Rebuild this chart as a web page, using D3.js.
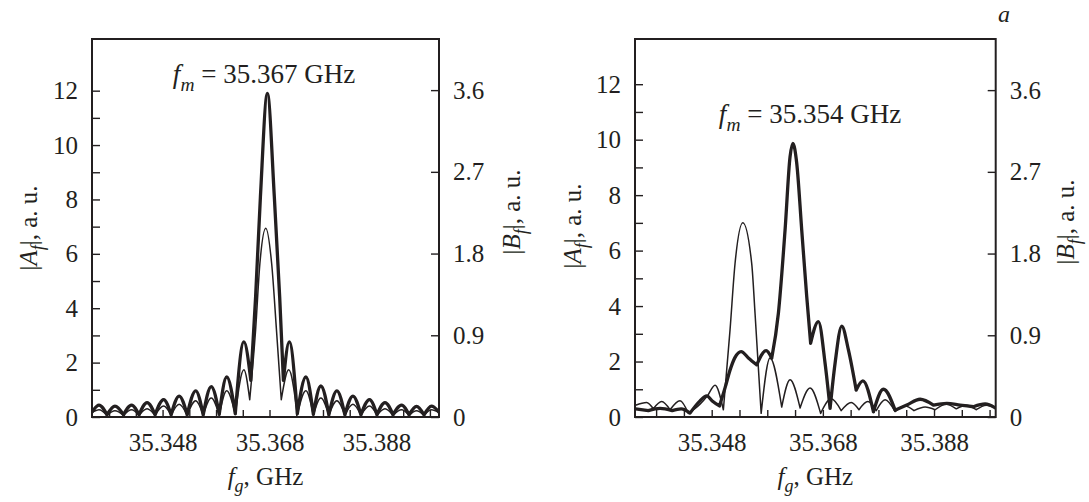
<!DOCTYPE html>
<html>
<head>
<meta charset="utf-8">
<script src="https://cdn.jsdelivr.net/npm/d3@7"></script>
<style>
  html, body { margin: 0; padding: 0; background: #fff; }
  svg { display: block; }
  text { font-family: "Liberation Serif", "Times New Roman", serif; fill: #231f20; }
</style>
</head>
<body>
<svg id="chart" width="1089" height="502"></svg>
<script>
// ---- Data: spectra |A_f| (thick, left axis) and |B_f| (thin, right axis) vs f_g, GHz ----

// Panel 1, f_m = 35.367 GHz
const leftAFreq = [35.3348, 35.3361, 35.3376, 35.3391, 35.3407, 35.3422, 35.3436, 35.3451, 35.3466, 35.3482,
  35.3496, 35.3511, 35.3526, 35.3542, 35.3556, 35.3571, 35.3586, 35.3600, 35.3616, 35.3632,
  35.3645, 35.3654, 35.3663, 35.3676, 35.3689, 35.3699, 35.3706, 35.3717, 35.3732, 35.3748,
  35.3762, 35.3776, 35.3791, 35.3806, 35.3821, 35.3836, 35.3851, 35.3867, 35.3881, 35.3896,
  35.3911, 35.3927, 35.3941, 35.3955, 35.3969, 35.3983, 35.3997];
const leftA = [0.18, 0.44, 0.08, 0.40, 0.08, 0.44, 0.08, 0.53, 0.08, 0.64,
  0.08, 0.77, 0.08, 0.96, 0.08, 1.12, 0.10, 1.47, 0.12, 2.76,
  1.35, 4.42, 8.10, 11.9, 8.10, 4.42, 1.35, 2.76, 0.12, 1.47,
  0.10, 1.14, 0.08, 0.96, 0.08, 0.77, 0.08, 0.64, 0.08, 0.53,
  0.08, 0.44, 0.08, 0.39, 0.08, 0.40, 0.18];

const leftBFreq = [35.3348, 35.3361, 35.3376, 35.3391, 35.3407, 35.3422, 35.3436, 35.3451, 35.3466, 35.3482,
  35.3496, 35.3511, 35.3526, 35.3542, 35.3556, 35.3571, 35.3586, 35.3600, 35.3616, 35.3632,
  35.3643, 35.3654, 35.3662, 35.3673, 35.3684, 35.3693, 35.3702, 35.3716, 35.3732, 35.3748,
  35.3762, 35.3776, 35.3791, 35.3806, 35.3821, 35.3836, 35.3851, 35.3867, 35.3881, 35.3896,
  35.3911, 35.3927, 35.3941, 35.3955, 35.3969, 35.3983, 35.3997];
const leftB = [0.05, 0.08, 0.02, 0.07, 0.02, 0.08, 0.02, 0.09, 0.02, 0.12,
  0.02, 0.14, 0.02, 0.18, 0.02, 0.21, 0.02, 0.29, 0.03, 0.52,
  0.19, 0.96, 1.69, 2.08, 1.69, 0.96, 0.19, 0.52, 0.03, 0.29,
  0.02, 0.21, 0.02, 0.18, 0.02, 0.14, 0.02, 0.12, 0.02, 0.09,
  0.02, 0.08, 0.02, 0.07, 0.02, 0.08, 0.05];

// Panel 2, f_m = 35.354 GHz
const rightAFreq = [35.3343, 35.3366, 35.3387, 35.3409, 35.3425, 35.3441, 35.3459, 35.3471, 35.3481, 35.3494,
  35.3504, 35.3513, 35.3522, 35.3533, 35.3546, 35.3561, 35.3578, 35.3588, 35.3600, 35.3612,
  35.3621, 35.3626, 35.3633, 35.3642, 35.3651, 35.3658, 35.3672, 35.3684, 35.3693, 35.3702,
  35.3714, 35.3726, 35.3740, 35.3752, 35.3771, 35.3789, 35.3810, 35.3831, 35.3855, 35.3879,
  35.3903, 35.3927, 35.3951, 35.3972, 35.3991];
const rightA = [0.29, 0.23, 0.31, 0.23, 0.29, 0.14, 0.58, 0.76, 0.58, 0.40,
  1.05, 1.69, 2.15, 2.36, 2.13, 1.88, 2.39, 2.12, 3.74, 6.74,
  9.39, 9.87, 9.15, 6.74, 4.34, 2.66, 3.44, 1.94, 0.31, 1.94,
  3.28, 2.42, 0.97, 1.30, 0.19, 1.00, 0.25, 0.43, 0.64, 0.43,
  0.49, 0.43, 0.37, 0.47, 0.32];

const rightBFreq = [35.3343, 35.3363, 35.3375, 35.3390, 35.3405, 35.3423, 35.3438, 35.3459, 35.3472, 35.3486,
  35.3501, 35.3513, 35.3522, 35.3536, 35.3552, 35.3558, 35.3569, 35.3585, 35.3606, 35.3621,
  35.3639, 35.3657, 35.3676, 35.3695, 35.3713, 35.3731, 35.3745, 35.3761, 35.3776, 35.3792,
  35.3810, 35.3828, 35.3844, 35.3864, 35.3882, 35.3902, 35.3920, 35.3938, 35.3956, 35.3974,
  35.3991];
const rightB = [0.13, 0.16, 0.09, 0.17, 0.08, 0.18, 0.04, 0.14, 0.23, 0.35,
  0.08, 0.96, 1.69, 2.14, 1.69, 1.14, 0.04, 0.65, 0.11, 0.41,
  0.10, 0.32, 0.04, 0.20, 0.07, 0.16, 0.08, 0.17, 0.07, 0.19,
  0.06, 0.12, 0.07, 0.11, 0.08, 0.14, 0.09, 0.13, 0.08, 0.13,
  0.10];

// Axis ticks and labels
const xTicks = [35.338, 35.343, 35.348, 35.353, 35.358, 35.363, 35.368, 35.373, 35.378, 35.383, 35.388, 35.393, 35.398];
const xLabels = [35.348, 35.368, 35.388];
const aTicks = [0, 1, 2, 3, 4, 5, 6, 7, 8, 9, 10, 11, 12];
const aLabels = [0, 2, 4, 6, 8, 10, 12];
const bTicks = [0, 0.9, 1.8, 2.7, 3.6];
const modFreqs = ["35.367", "35.354"];

// ---- Drawing ----
const ink = "#231f20";
const svg = d3.select("#chart");
const zip = (xs, ys) => xs.map((x, i) => [x, ys[i]]);

const panels = [
  { x0: 92, x1: 439, xDom: [35.3348, 35.3997], aMax: 13.9, bMax: 4.163,
    thick: zip(leftAFreq, leftA), thin: zip(leftBFreq, leftB), fm: modFreqs[0],
    note: [264, 83], aTitle: [31, 228], bTitle: [514, 212] },
  { x0: 635, x1: 995.7, xDom: [35.3342, 35.3991], aMax: 13.63, bMax: 4.163,
    thick: zip(rightAFreq, rightA), thin: zip(rightBFreq, rightB), fm: modFreqs[1],
    note: [810, 123], aTitle: [575, 226], bTitle: [1068, 222] }
];
const yTop = 39, yBot = 417;

// Split a trace at its local minima so each lobe is drawn as its own arch
function lobes(pts) {
  const cuts = [0];
  for (let i = 1; i < pts.length - 1; i++) {
    if (pts[i][1] < pts[i - 1][1] && pts[i][1] < pts[i + 1][1]) cuts.push(i);
  }
  cuts.push(pts.length - 1);
  const out = [];
  for (let k = 0; k < cuts.length - 1; k++) out.push(pts.slice(cuts[k], cuts[k + 1] + 1));
  return out;
}

function label(sel, parts, size) {
  // parts: [text, italic, subscript]
  parts.forEach(([t, it, sub], i) => {
    const prevSub = i > 0 && parts[i - 1][2];
    const ts = sel.append("tspan").text(t)
      .attr("font-style", it ? "italic" : "normal")
      .attr("font-size", sub ? size * 0.72 : size);
    if (sub) ts.attr("dy", size * 0.28);
    else if (prevSub) ts.attr("dy", -size * 0.28);
  });
}

panels.forEach((p, idx) => {
  const x = d3.scaleLinear().domain(p.xDom).range([p.x0, p.x1]);
  const yA = d3.scaleLinear().domain([0, p.aMax]).range([yBot, yTop]);
  const yB = d3.scaleLinear().domain([0, p.bMax]).range([yBot, yTop]);
  const g = svg.append("g");

  const clipId = "clip" + idx;
  svg.append("clipPath").attr("id", clipId).append("rect")
    .attr("x", p.x0).attr("y", yTop).attr("width", p.x1 - p.x0).attr("height", yBot - yTop);

  // axes with inward ticks
  const axA = d3.axisLeft(yA).tickValues(aTicks).tickSizeInner(-8).tickSizeOuter(0).tickPadding(14)
    .tickFormat(d => aLabels.includes(d) ? String(d) : "");
  const axB = d3.axisRight(yB).tickValues(bTicks).tickSizeInner(-8).tickSizeOuter(0).tickPadding(14)
    .tickFormat(d => d === 0 ? "0" : d3.format(".1f")(d));
  const axX = d3.axisBottom(x).tickValues(xTicks).tickSizeInner(-7).tickSizeOuter(0).tickPadding(16)
    .tickFormat(d => xLabels.some(v => Math.abs(v - d) < 1e-9) ? d3.format(".3f")(d) : "");

  const gA = g.append("g").attr("transform", `translate(${p.x0},0)`).call(axA);
  const gB = g.append("g").attr("transform", `translate(${p.x1},0)`).call(axB);
  const gX = g.append("g").attr("transform", `translate(0,${yBot})`).call(axX);
  [gA, gB, gX].forEach(s => {
    s.select(".domain").remove();
    s.attr("font-size", 25).attr("font-family", '"Liberation Serif", serif');
    s.selectAll(".tick line").attr("stroke", ink).attr("stroke-width", 1.4);
    s.selectAll(".tick text").attr("font-size", 25).attr("fill", ink);
  });

  // curves
  const line = d3.line().x(d => x(d[0])).curve(d3.curveMonotoneX);
  const plot = g.append("g").attr("clip-path", `url(#${clipId})`);
  plot.append("path")
    .attr("d", lobes(p.thin).map(s => line.y(d => yB(d[1]))(s)).join(""))
    .attr("fill", "none").attr("stroke", ink).attr("stroke-width", 1.5)
    .attr("stroke-linejoin", "round").attr("stroke-linecap", "round");
  plot.append("path")
    .attr("d", lobes(p.thick).map(s => line.y(d => yA(d[1]))(s)).join(""))
    .attr("fill", "none").attr("stroke", ink).attr("stroke-width", 3.3)
    .attr("stroke-linejoin", "round").attr("stroke-linecap", "round");

  // frame
  g.append("rect").attr("x", p.x0).attr("y", yTop).attr("width", p.x1 - p.x0).attr("height", yBot - yTop)
    .attr("fill", "none").attr("stroke", ink).attr("stroke-width", 2);

  // modulation-frequency note
  label(g.append("text").attr("x", p.note[0]).attr("y", p.note[1]).attr("text-anchor", "middle"),
    [["f", true, false], ["m", true, true], [" = " + p.fm + " GHz", false, false]], 27);

  // axis titles
  label(g.append("text").attr("x", (p.x0 + p.x1) / 2).attr("y", 485).attr("text-anchor", "middle"),
    [["f", true, false], ["g", true, true], [", GHz", false, false]], 25);
  label(g.append("text").attr("text-anchor", "middle").attr("dy", "0.35em")
      .attr("transform", `translate(${p.aTitle[0]},${p.aTitle[1]}) rotate(-90)`),
    [["|", false, false], ["A", true, false], ["f", true, true], ["|, a. u.", false, false]], 25);
  label(g.append("text").attr("text-anchor", "middle").attr("dy", "0.35em")
      .attr("transform", `translate(${p.bTitle[0]},${p.bTitle[1]}) rotate(-90)`),
    [["|", false, false], ["B", true, false], ["f", true, true], ["|, a. u.", false, false]], 25);
});

// panel letter
svg.append("text").attr("x", 1004).attr("y", 22).attr("text-anchor", "middle")
  .attr("font-size", 24).attr("font-style", "italic").text("a");
</script>
</body>
</html>
